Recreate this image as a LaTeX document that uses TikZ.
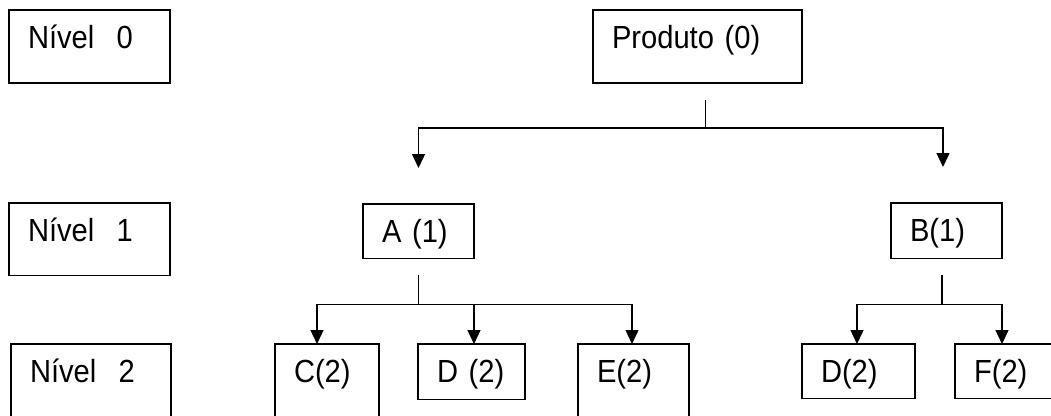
\documentclass[tikz,border=0pt]{standalone}
\usepackage{fontspec}
\setmainfont{Liberation Sans}[FakeStretch=0.91,WordSpace=0.9]
\usetikzlibrary{arrows.meta,calc}

\tikzset{
  caixa/.style 2 args={draw, line width=1.3pt, anchor=north west, outer sep=0pt,
    inner xsep=19pt, inner ysep=0pt, align=left, text width=#1,
    text height=38.5pt, text depth=#2, font=\fontsize{32}{36}\selectfont},
  liga/.style={line width=1.4pt},
  seta/.style={liga, -{Triangle[length=14pt,width=13pt]}}
}

\begin{document}
\begin{tikzpicture}[x=1pt,y=-1pt]
  \useasboundingbox (0,0) rectangle (1051,415);
  \clip (0,0) rectangle (1051,415);

  %levels
  \node[caixa={123pt}{34.5pt}] (niv0) at (9,10) {Nível\hspace{0.7em}0};
  \node[caixa={123pt}{34pt}] (niv1) at (9,203) {Nível\hspace{0.7em}1};
  \node[caixa={122pt}{90pt}] (niv2) at (11,344) {Nível\hspace{0.7em}2};

  %tree
  \node[caixa={171pt}{34.5pt}] (prod) at (593,10) {Produto (0)};
  \node[caixa={73pt}{16pt}] (A) at (363,204) {A (1)};
  \node[caixa={73pt}{17pt}] (B) at (891,203) {B(1)};
  \node[caixa={66pt}{90pt}] (C) at (275,344) {C(2)};
  \node[caixa={69pt}{17pt}] (D) at (418,344) {D (2)};
  \node[caixa={73pt}{90pt}] (E) at (578,344) {E(2)};
  \node[caixa={75pt}{16pt}] (DB) at (802,344) {D(2)};
  \node[caixa={73pt}{16pt}] (F) at (955,344) {F(2)};

  %edges
  \draw[liga] ([xshift=8pt,yshift=-17pt]prod.south) coordinate (p0) -- ++(0,28) coordinate (p1);
  \draw[seta] (p1) -| ([yshift=36pt]A.north);
  \draw[seta] (p1) -| ([xshift=-3.5pt,yshift=36pt]B.north);

  \draw[liga] ([yshift=-16pt]A.south) coordinate (a0) -- ++(0,30) coordinate (a1);
  \draw[seta] (a1) -| ([xshift=-10pt]C.north);
  \draw[seta] ([xshift=2.5pt]D.north |- a1) -- ([xshift=2.5pt]D.north);
  \draw[seta] (a1) -| ([xshift=-1.5pt]E.north);

  \draw[liga] ([xshift=-4.5pt,yshift=-16pt]B.south) coordinate (b0) -- ++(0,30) coordinate (b1);
  \draw[seta] (b1) -| ([xshift=-1.5pt]DB.north);
  \draw[seta] (b1) -| ([xshift=47pt]F.north west);
\end{tikzpicture}
\end{document}
